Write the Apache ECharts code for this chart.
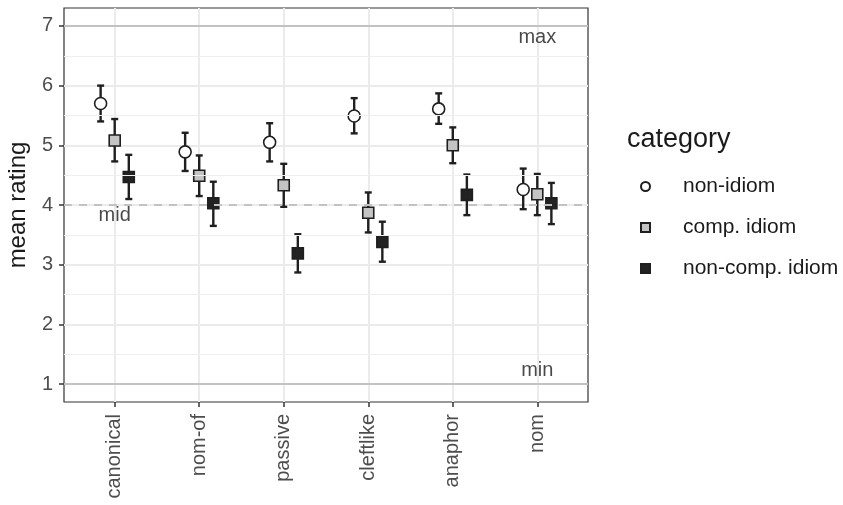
<!DOCTYPE html>
<html>
<head>
    <meta charset="utf-8">
    <title>mean rating</title>
    <script src="https://cdn.jsdelivr.net/npm/echarts@6/dist/echarts.min.js"></script>
    <style>
        body { margin: 0; background: #fff; }
        #main { width: 843px; height: 505px; }
    </style>
</head>
<body>
    <div id="main"></div>
    <script type="text/javascript">
    // data
    var categories = ['canonical', 'nom-of', 'passive', 'cleftlike', 'anaphor', 'nom'];
    var groups = ['non-idiom', 'comp. idiom', 'non-comp. idiom'];

    var nonIdiomMean = [5.70, 4.89, 5.05, 5.49, 5.61, 4.26];
    var nonIdiomLow  = [5.40, 4.57, 4.73, 5.20, 5.36, 3.93];
    var nonIdiomHigh = [6.00, 5.21, 5.37, 5.79, 5.87, 4.61];

    var compMean = [5.08, 4.49, 4.33, 3.87, 5.00, 4.18];
    var compLow  = [4.73, 4.15, 3.97, 3.54, 4.70, 3.83];
    var compHigh = [5.44, 4.83, 4.69, 4.21, 5.30, 4.52];

    var nonCompMean = [4.47, 4.03, 3.19, 3.38, 4.17, 4.03];
    var nonCompLow  = [4.10, 3.65, 2.87, 3.05, 3.83, 3.68];
    var nonCompHigh = [4.84, 4.39, 3.51, 3.72, 4.51, 4.37];

    var yBreaks = [1, 2, 3, 4, 5, 6, 7];
    var yMinor = [1.5, 2.5, 3.5, 4.5, 5.5, 6.5];
    var refLines = [{ y: 7, label: 'max', at: 6, ly: 6.8 },
                    { y: 1, label: 'min', at: 6, ly: 1.22 },
                    { y: 4, label: 'mid', at: 1, ly: 3.82 }];

    var means = [nonIdiomMean, compMean, nonCompMean];
    var lows = [nonIdiomLow, compLow, nonCompLow];
    var highs = [nonIdiomHigh, compHigh, nonCompHigh];
    var dodge = [-1 / 6, 0, 1 / 6];
    var fills = ['#ffffff', '#c4c4c4', '#222222'];
    var shapes = ['circle', 'rect', 'rect'];
    var sizes = [12, 11, 11];
    var xTicks = categories.map(function (c, i) { return i + 1; });

    var errSeries = groups.map(function (g, k) {
        return {
            type: 'custom',
            silent: true,
            z: 3,
            data: categories.map(function (c, i) { return [i + 1 + dodge[k], lows[k][i], highs[k][i]]; }),
            renderItem: function (params, api) {
                var x = api.value(0);
                var top = api.coord([x, api.value(2)]);
                var bot = api.coord([x, api.value(1)]);
                var st = { stroke: '#1f1f1f', lineWidth: 2.4 };
                return {
                    type: 'group',
                    children: [
                        { type: 'line', shape: { x1: top[0], y1: top[1], x2: bot[0], y2: bot[1] }, style: st },
                        { type: 'line', shape: { x1: top[0] - 3.5, y1: top[1], x2: top[0] + 3.5, y2: top[1] }, style: st },
                        { type: 'line', shape: { x1: bot[0] - 3.5, y1: bot[1], x2: bot[0] + 3.5, y2: bot[1] }, style: st }
                    ]
                };
            }
        };
    });

    var pointSeries = groups.map(function (g, k) {
        return {
            name: g,
            type: 'scatter',
            z: 4,
            symbol: shapes[k],
            symbolSize: sizes[k],
            itemStyle: { color: fills[k], borderColor: '#1f1f1f', borderWidth: 1.6, opacity: 1 },
            data: categories.map(function (c, i) { return [i + 1 + dodge[k], means[k][i]]; })
        };
    });

    var refSeries = {
        type: 'line',
        silent: true,
        z: 5,
        data: [],
        markLine: {
            silent: true,
            symbol: 'none',
            label: { show: false },
            data: refLines.map(function (r) {
                return { yAxis: r.y, lineStyle: { color: '#c2c2c2', width: 2, type: r.y === 4 ? [8, 7] : 'solid' } };
            })
        }
    };

    var minorSeries = {
        type: 'line',
        silent: true,
        z: 1,
        data: [],
        markLine: {
            silent: true,
            symbol: 'none',
            label: { show: false },
            lineStyle: { color: '#efefef', width: 1, type: 'solid' },
            data: yMinor.map(function (v) { return { yAxis: v }; })
        }
    };

    var textSeries = {
        type: 'scatter',
        silent: true,
        z: 6,
        symbolSize: 0,
        data: refLines.map(function (r) { return { value: [r.at, r.ly], name: r.label }; }),
        label: {
            show: true,
            position: 'inside',
            formatter: '{b}',
            fontFamily: 'Liberation Sans',
            fontSize: 20,
            color: '#1a1a1a'
        }
    };

    var chart = echarts.init(document.getElementById('main'), null, { renderer: 'canvas' });
    chart.setOption({
        animation: false,
        backgroundColor: '#ffffff',
        textStyle: { fontFamily: 'Liberation Sans' },
        title: {
            text: 'category',
            left: 627,
            top: 126,
            padding: 0,
            textStyle: { fontFamily: 'Liberation Sans', fontSize: 27, fontWeight: 'normal', color: '#1a1a1a' }
        },
        legend: {
            data: groups,
            orient: 'vertical',
            left: 635,
            top: 171,
            itemWidth: 9,
            itemHeight: 9,
            itemGap: 20,
            selectedMode: false,
            textStyle: { fontFamily: 'Liberation Sans', fontSize: 21, color: '#1a1a1a', lineHeight: 20, padding: [0, 0, 0, 28] }
        },
        grid: {
            left: 64, right: 255, top: 8, bottom: 103,
            containLabel: false,
            outerBoundsMode: 'none',
            show: true, borderColor: '#333', borderWidth: 1.2, backgroundColor: 'transparent'
        },
        xAxis: {
            type: 'value',
            min: 0.4,
            max: 6.6,
            axisLine: { show: false },
            axisTick: { show: true, length: 5, customValues: xTicks, lineStyle: { color: '#333', width: 1.5 } },
            axisLabel: {
                customValues: xTicks,
                rotate: 90,
                margin: 12,
                fontFamily: 'Liberation Sans',
                fontSize: 20,
                color: '#4d4d4d',
                formatter: function (v) { return categories[Math.round(v) - 1]; }
            },
            splitLine: { show: true, lineStyle: { color: '#ebebeb', width: 2 } }
        },
        yAxis: {
            type: 'value',
            min: 0.7,
            max: 7.3,
            name: 'mean rating',
            nameLocation: 'middle',
            nameRotate: 90,
            nameGap: 34,
            nameTextStyle: { fontFamily: 'Liberation Sans', fontSize: 24, color: '#1a1a1a' },
            axisLine: { show: false },
            axisTick: { show: true, length: 5, customValues: yBreaks, lineStyle: { color: '#333', width: 1.5 } },
            axisLabel: {
                customValues: yBreaks,
                margin: 11,
                fontFamily: 'Liberation Sans',
                fontSize: 20,
                color: '#4d4d4d'
            },
            splitLine: { show: true, lineStyle: { color: '#ebebeb', width: 2 } }
        },
        series: [minorSeries].concat(errSeries, pointSeries, [refSeries, textSeries])
    });
    </script>
</body>
</html>
